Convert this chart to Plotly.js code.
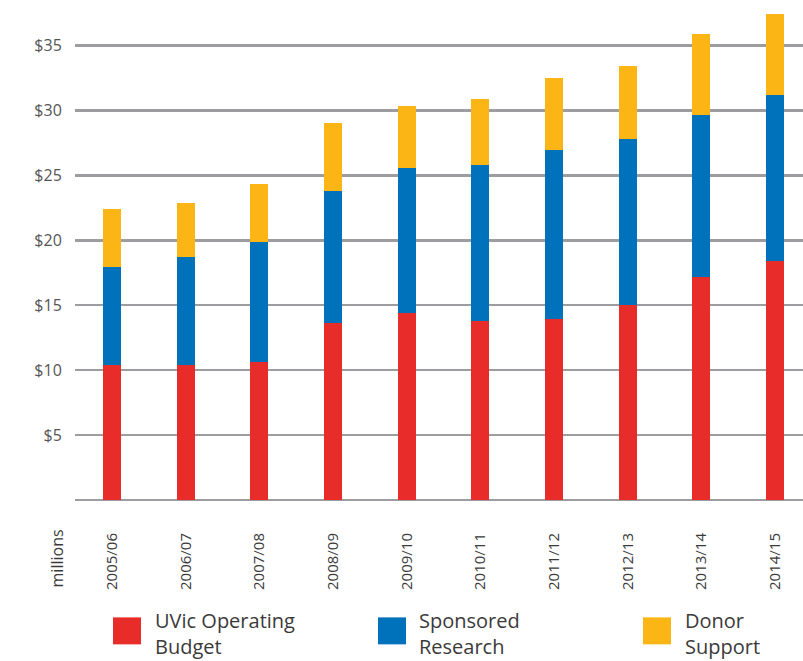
<!DOCTYPE html>
<html>
<head>
<meta charset="utf-8">
<script src="https://cdn.plot.ly/plotly-3.0.1.min.js"></script>
<style>html,body{margin:0;padding:0;background:#fff;}#chart{width:803px;height:661px;}</style>
</head>
<body>
<div id="chart"></div>
<script>
const years = ["2005/06","2006/07","2007/08","2008/09","2009/10","2010/11","2011/12","2012/13","2013/14","2014/15"];
const operatingBudget = [10.4, 10.4, 10.6, 13.65, 14.4, 13.8, 13.9, 15.0, 17.15, 18.4];
const sponsoredResearch = [7.55, 8.3, 9.3, 10.15, 11.2, 12.0, 13.05, 12.8, 12.5, 12.8];
const donorSupport = [4.45, 4.2, 4.45, 5.25, 4.7, 5.05, 5.55, 5.6, 6.25, 6.25];
const seriesNames = ["UVic Operating<br>Budget", "Sponsored<br>Research", "Donor<br>Support"];
const seriesColors = ["#E82C2A", "#0072BB", "#FBB515"];
const yTickVals = [5, 10, 15, 20, 25, 30, 35];
const yTickText = ["$5", "$10", "$15", "$20", "$25", "$30", "$35"];
const unitLabel = "millions";

const values = [operatingBudget, sponsoredResearch, donorSupport];
const traces = values.map((v, i) => ({
  type: "bar",
  x: years,
  y: v,
  name: seriesNames[i].replace("<br>", " "),
  marker: {color: seriesColors[i], line: {width: 0}},
  width: 0.245,
  hoverinfo: "x+y+name"
}));

const plotLeft = 75, plotWidth = 728, plotHeight = 500.5;
const px = v => (v - plotLeft) / plotWidth;
const py = v => (plotHeight - v) / plotHeight;

const legendSquares = [[113, 141], [378, 406], [643, 671]];
const legendTextX = [152.6, 417, 683];
const shapes = legendSquares.map((s, i) => ({
  type: "rect", xref: "paper", yref: "paper",
  x0: px(s[0]), x1: px(s[1]), y0: py(618), y1: py(645),
  fillcolor: seriesColors[i], line: {width: 0}
}));
const annotations = seriesNames.map((n, i) => ({
  xref: "paper", yref: "paper", x: px(legendTextX[i]), y: py(606),
  xanchor: "left", yanchor: "top", align: "left", showarrow: false,
  text: n, font: {family: "Open Sans", size: 20, color: "#3a3a3a"}
}));
annotations.push({
  xref: "paper", yref: "paper", x: px(57), y: py(559),
  xanchor: "center", yanchor: "middle", textangle: -90, showarrow: false,
  text: unitLabel, font: {family: "Open Sans", size: 16, color: "#3a3a3a"}
});

const layout = {
  width: 803, height: 661,
  margin: {l: 75, r: 0, t: 0, b: 160.5, pad: 0},
  paper_bgcolor: "#ffffff", plot_bgcolor: "#ffffff",
  barmode: "stack",
  showlegend: false,
  font: {family: "Open Sans", color: "#555555"},
  xaxis: {
    type: "category",
    range: [-0.502, 9.38],
    showgrid: false, zeroline: false, showline: false,
    tickangle: -90,
    ticks: "outside", ticklen: 26, tickcolor: "rgba(0,0,0,0)",
    tickfont: {family: "Open Sans", size: 15, color: "#3a3a3a"},
    fixedrange: true
  },
  yaxis: {
    range: [0, 38.5],
    tickvals: yTickVals, ticktext: yTickText,
    showgrid: true, gridcolor: "#9d9da1", gridwidth: 2.5,
    zeroline: true, zerolinecolor: "#9d9da1", zerolinewidth: 2.5,
    showline: false,
    ticks: "outside", ticklen: 9, tickcolor: "rgba(0,0,0,0)",
    tickfont: {family: "Open Sans", size: 16, color: "#555555"},
    fixedrange: true
  },
  shapes: shapes,
  annotations: annotations
};

Plotly.newPlot("chart", traces, layout, {displayModeBar: false, staticPlot: true});
</script>
</body>
</html>
